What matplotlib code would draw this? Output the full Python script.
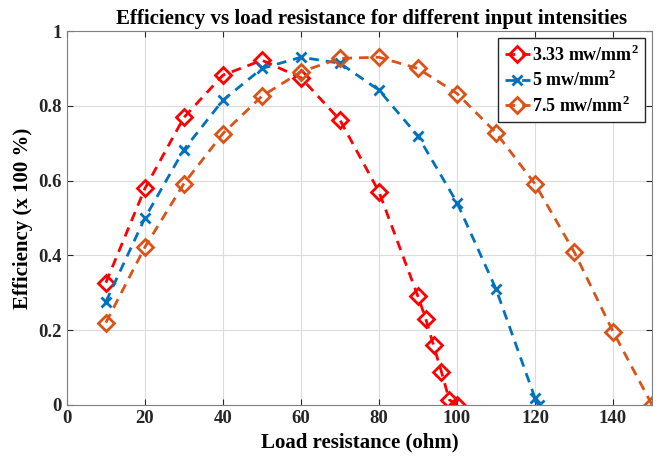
import matplotlib.pyplot as plt
import numpy as np

# load resistance (ohm) and efficiency for each input intensity
r_333 = [10, 20, 30, 40, 50, 60, 70, 80, 90, 92, 94, 96, 98, 100]
eff_333 = [0.327, 0.579, 0.769, 0.882, 0.922, 0.875, 0.762, 0.570, 0.29, 0.23, 0.159, 0.089, 0.014, 0.0]

r_5 = [10, 20, 30, 40, 50, 60, 70, 80, 90, 100, 110, 120, 121]
eff_5 = [0.276, 0.50, 0.683, 0.815, 0.90, 0.93, 0.914, 0.842, 0.719, 0.541, 0.31, 0.018, 0.0]

r_75 = [10, 20, 30, 40, 50, 60, 70, 80, 90, 100, 110, 120, 130, 140, 150]
eff_75 = [0.22, 0.422, 0.592, 0.726, 0.826, 0.891, 0.927, 0.93, 0.90, 0.833, 0.728, 0.591, 0.41, 0.196, 0.0]

x_ticks = [0, 20, 40, 60, 80, 100, 120, 140]
y_ticks = [0, 0.2, 0.4, 0.6, 0.8, 1]
y_labels = ['0', '0.2', '0.4', '0.6', '0.8', '1']

plt.rcParams['font.family'] = ['Liberation Serif', 'DejaVu Serif']
plt.rcParams['font.weight'] = 'bold'
plt.rcParams['mathtext.fontset'] = 'custom'
plt.rcParams['mathtext.rm'] = 'Liberation Serif:bold'

fig = plt.figure(figsize=(6.62, 4.57), dpi=100)
ax = fig.add_axes([0.101, 0.114, 0.884, 0.818])

dash = (3.5, 2.5)
ax.plot(r_333, eff_333, '--', dashes=dash, color='#FF0000', lw=2, marker='D', ms=8,
        mfc='none', mew=2, label=r'3.33 mw/mm$^\mathregular{2}$')
ax.plot(r_5, eff_5, '--', dashes=dash, color='#0072BD', lw=2, marker='x', ms=7,
        mew=2, label=r'5 mw/mm$^\mathregular{2}$')
ax.plot(r_75, eff_75, '--', dashes=dash, color='#D95319', lw=2, marker='D', ms=8,
        mfc='none', mew=2, label=r'7.5 mw/mm$^\mathregular{2}$')

ax.set_xlim(0, 150)
ax.set_ylim(0, 1)
ax.set_xticks(x_ticks)
ax.set_yticks(y_ticks)
ax.set_yticklabels(y_labels)
ax.tick_params(direction='in', labelsize=13.5, colors='#262626', length=4,
               top=True, right=True)
for lbl in ax.get_xticklabels() + ax.get_yticklabels():
    lbl.set_fontweight('bold')
for s in ax.spines.values():
    s.set_color('#7f7f7f')
ax.grid(True, color='#dcdcdc', lw=0.8)

ax.set_xlabel('Load resistance (ohm)', fontsize=15, fontweight='bold')
ax.set_ylabel('Efficiency (x 100 %)', fontsize=15, fontweight='bold')
ax.set_title('Efficiency vs load resistance for different input intensities',
             fontsize=15, fontweight='bold', pad=5, x=0.52)

leg = ax.legend(loc='upper right', fontsize=13, handlelength=1.4,
                handletextpad=0.1, borderpad=0.35, labelspacing=0.3,
                fancybox=False, framealpha=1, borderaxespad=0.4)
leg.get_frame().set_edgecolor('#262626')
leg.get_frame().set_linewidth(1)

fig.savefig('out.png', dpi=100)
